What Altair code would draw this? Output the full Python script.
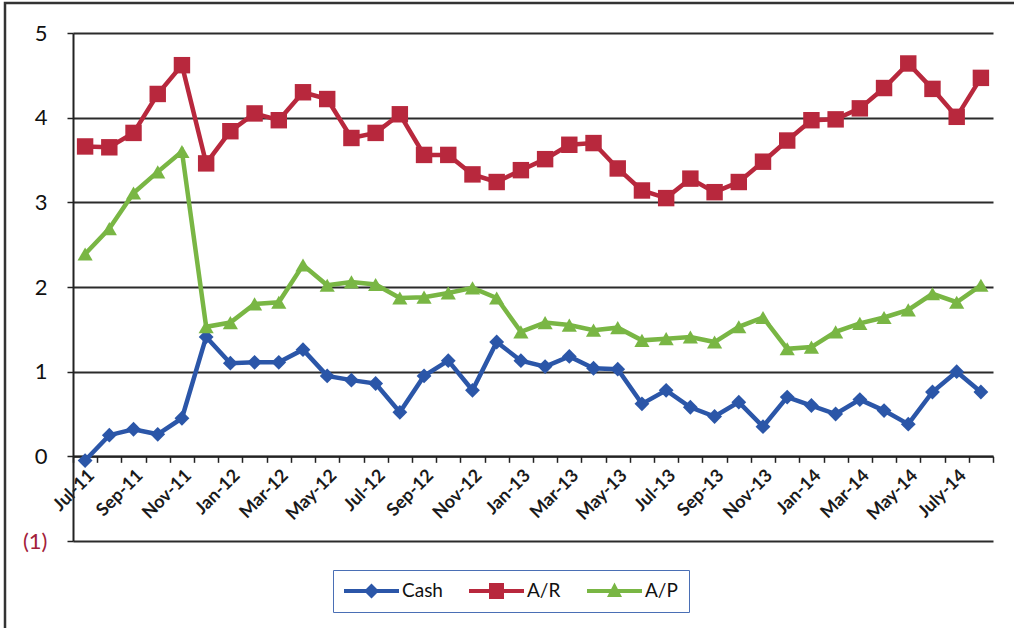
import altair as alt
import pandas as pd

months = ["Jul-11", "Aug-11", "Sep-11", "Oct-11", "Nov-11", "Dec-11",
          "Jan-12", "Feb-12", "Mar-12", "Apr-12", "May-12", "Jun-12",
          "Jul-12", "Aug-12", "Sep-12", "Oct-12", "Nov-12", "Dec-12",
          "Jan-13", "Feb-13", "Mar-13", "Apr-13", "May-13", "Jun-13",
          "Jul-13", "Aug-13", "Sep-13", "Oct-13", "Nov-13", "Dec-13",
          "Jan-14", "Feb-14", "Mar-14", "Apr-14", "May-14", "Jun-14",
          "July-14", "Aug-14"]

shown_labels = ["Jul-11", "Sep-11", "Nov-11", "Jan-12", "Mar-12", "May-12",
                "Jul-12", "Sep-12", "Nov-12", "Jan-13", "Mar-13", "May-13",
                "Jul-13", "Sep-13", "Nov-13", "Jan-14", "Mar-14", "May-14",
                "July-14"]

cash = [-0.05, 0.25, 0.32, 0.26, 0.45, 1.41, 1.10, 1.11, 1.11, 1.26, 0.95, 0.90,
        0.86, 0.52, 0.95, 1.13, 0.78, 1.35, 1.13, 1.06, 1.18, 1.04, 1.03, 0.62,
        0.78, 0.58, 0.47, 0.64, 0.35, 0.70, 0.60, 0.50, 0.67, 0.54, 0.38, 0.76,
        1.00, 0.76]
ar = [3.66, 3.65, 3.82, 4.28, 4.62, 3.46, 3.84, 4.05, 3.97, 4.30, 4.22, 3.76,
      3.82, 4.04, 3.56, 3.56, 3.33, 3.24, 3.38, 3.51, 3.68, 3.70, 3.40, 3.14,
      3.05, 3.28, 3.12, 3.24, 3.48, 3.73, 3.97, 3.98, 4.11, 4.35, 4.64, 4.34,
      4.01, 4.47]
ap = [2.39, 2.69, 3.11, 3.36, 3.60, 1.53, 1.58, 1.80, 1.82, 2.26, 2.02, 2.06,
      2.03, 1.87, 1.88, 1.93, 1.99, 1.87, 1.47, 1.58, 1.55, 1.49, 1.52, 1.37,
      1.39, 1.41, 1.35, 1.53, 1.64, 1.27, 1.29, 1.47, 1.57, 1.64, 1.73, 1.92,
      1.82, 2.02]

series_names = ["Cash", "A/R", "A/P"]
series_values = [cash, ar, ap]
series_colors = ["#2b56a8", "#b8283d", "#79b644"]
marker_shapes = ["diamond", "square", "triangle-up"]
marker_sizes = [220, 270, 230]

# legend symbols (unit = 10 px): a line 55 px long with the series marker in its middle
legend_paths = [
    "M-1,-0.2L4.5,-0.2L4.5,0.2L-1,0.2Z M1.75,-0.75L2.5,0L1.75,0.75L1,0Z",
    "M-1,-0.2L4.5,-0.2L4.5,0.2L-1,0.2Z M1,-0.8L2.5,-0.8L2.5,0.8L1,0.8Z",
    "M-1,-0.2L4.5,-0.2L4.5,0.2L-1,0.2Z M1.75,-0.85L2.5,0.6L1,0.6Z",
]

rows = []
for name, vals in zip(series_names, series_values):
    for m, v in zip(months, vals):
        rows.append({"month": m, "value": v, "series": name})
df = pd.DataFrame(rows)

W, H = 920, 508
label_list = "[" + ",".join("'" + s + "'" for s in shown_labels) + "]"

x_enc = alt.X(
    "month:O",
    sort=months,
    scale=alt.Scale(type="band", paddingInner=0, paddingOuter=0),
    axis=alt.Axis(
        title=None,
        offset=-H / 6.0,
        labelAngle=-45,
        labelExpr="indexof(" + label_list + ", datum.value) >= 0 ? datum.label : ''",
        labelFont="Lato",
        labelFontSize=18,
        labelFontWeight="bold",
        labelColor="#1a1a1a",
        labelPadding=4,
        tickBand="extent",
        tickSize=6,
        tickWidth=1.5,
        tickColor="#222222",
        domainColor="#222222",
        domainWidth=2,
        grid=False,
        labelOverlap=False,
    ),
)

y_enc = alt.Y(
    "value:Q",
    scale=alt.Scale(domain=[-1, 5], nice=False, zero=False),
    axis=alt.Axis(
        title=None,
        values=[-1, 0, 1, 2, 3, 4, 5],
        labelExpr="datum.value < 0 ? '(' + abs(datum.value) + ')' : datum.label",
        labelColor=alt.condition("datum.value < 0", alt.value("#a3203a"), alt.value("#111111")),
        labelFont="Lato",
        labelFontSize=22,
        labelPadding=20,
        tickSize=6,
        tickColor="#222222",
        tickWidth=1.5,
        domainColor="#222222",
        domainWidth=2,
        grid=True,
        gridColor="#2b2b2b",
        gridWidth=1.8,
    ),
)

base = alt.Chart(df)

layers = []
for name, color in zip(series_names, series_colors):
    sub = base.transform_filter(alt.datum.series == name)
    layers.append(sub.mark_line(strokeWidth=4.5, color=color).encode(x=x_enc, y=y_enc))
for name, color, shp, sz in zip(series_names, series_colors, marker_shapes, marker_sizes):
    sub = base.transform_filter(alt.datum.series == name)
    layers.append(sub.mark_point(shape=shp, size=sz, filled=True, opacity=1, color=color)
                  .encode(x=x_enc, y=y_enc))

legend_def = alt.Legend(
    title=None,
    orient="none",
    legendX=260,
    legendY=537,
    direction="horizontal",
    strokeColor="#4a6fb5",
    padding=11,
    symbolSize=400,
    symbolOpacity=1,
    symbolStrokeWidth=0,
    labelFont="Lato",
    labelFontSize=19,
    labelColor="#111111",
    labelOffset=38,
    columnPadding=26,
)

legend_layer = base.mark_point(filled=True, opacity=0).encode(
    x=x_enc,
    y=y_enc,
    color=alt.Color("series:N", sort=series_names,
                    scale=alt.Scale(domain=series_names, range=series_colors),
                    legend=legend_def),
    shape=alt.Shape("series:N", sort=series_names,
                    scale=alt.Scale(domain=series_names, range=legend_paths),
                    legend=legend_def),
)
layers.append(legend_layer)

frame = alt.Chart(pd.DataFrame({"a": [0]})).mark_rect(
    filled=False, stroke="#333333", strokeWidth=2.5, clip=False
).encode(
    x=alt.value(-68), x2=alt.value(W + 60),
    y=alt.value(-30), y2=alt.value(H + 120),
)
layers.append(frame)

chart = alt.layer(*layers).properties(
    width=W,
    height=H,
    autosize=alt.AutoSizeParams(type="none"),
    padding={"left": 73, "top": 33, "right": 21, "bottom": 87},
    background="white",
).configure_view(stroke=None)

chart.save("out.html", embed_options={"renderer": "svg", "actions": False})
